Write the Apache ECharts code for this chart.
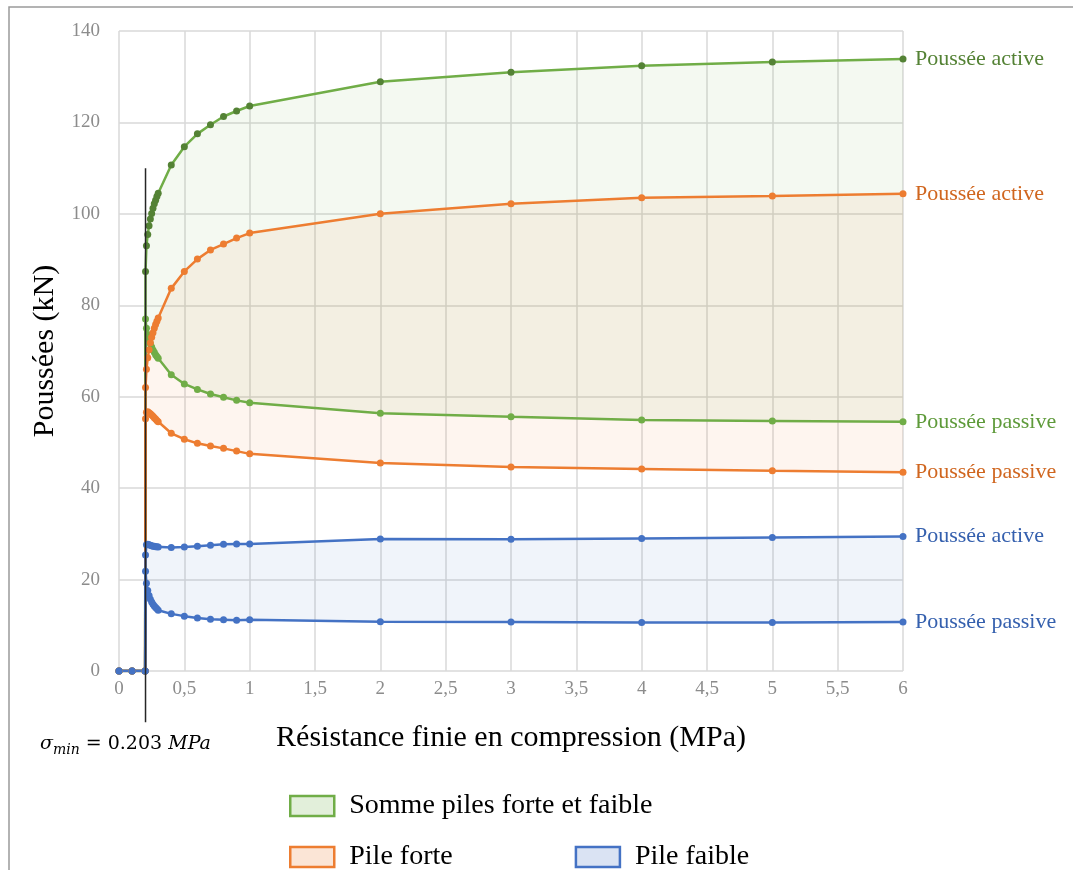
<!DOCTYPE html>
<html><head><meta charset="utf-8">
<script src="https://cdn.jsdelivr.net/npm/echarts@6/dist/echarts.min.js"></script>
<style>html,body{margin:0;padding:0;background:#fff}#c{width:1073px;height:870px}</style>
</head><body><div id="c"></div>
<script>
// ---- data ----
const xValues = [0, 0.1, 0.2, 0.203, 0.21, 0.22, 0.23, 0.24, 0.25, 0.26, 0.27, 0.28, 0.29, 0.3, 0.4, 0.5, 0.6, 0.7, 0.8, 0.9, 1, 2, 3, 4, 5, 6];
const sumActive     = [0, 0, 0, 87.4, 93.0, 95.5, 97.4, 98.9, 100.1, 101.2, 102.2, 103.0, 103.8, 104.5, 110.7, 114.7, 117.5, 119.5, 121.3, 122.5, 123.6, 128.9, 131.0, 132.4, 133.2, 133.9];
const sumPassive    = [0, 0, 0, 77.0, 75.0, 73.6, 72.5, 71.6, 70.9, 70.2, 69.7, 69.2, 68.8, 68.4, 64.8, 62.8, 61.6, 60.6, 59.9, 59.2, 58.7, 56.4, 55.6, 54.9, 54.7, 54.5];
const strongActive  = [0, 0, 0, 62.0, 66.0, 68.5, 70.3, 71.8, 73.0, 74.0, 75.0, 75.8, 76.5, 77.2, 83.7, 87.4, 90.1, 92.1, 93.4, 94.7, 95.8, 100.0, 102.2, 103.5, 103.9, 104.4];
const strongPassive = [0, 0, 0, 55.2, 56.6, 56.7, 56.5, 56.3, 56.0, 55.7, 55.4, 55.1, 54.8, 54.5, 52.0, 50.7, 49.8, 49.2, 48.7, 48.1, 47.5, 45.5, 44.6, 44.2, 43.8, 43.5];
const weakActive    = [0, 0, 0, 25.4, 27.6, 27.7, 27.6, 27.5, 27.4, 27.3, 27.3, 27.2, 27.2, 27.1, 27.0, 27.1, 27.3, 27.5, 27.7, 27.8, 27.8, 28.9, 28.8, 29.0, 29.2, 29.4];
const weakPassive   = [0, 0, 0, 21.8, 19.2, 17.6, 16.5, 15.7, 15.1, 14.6, 14.2, 13.9, 13.6, 13.3, 12.5, 12.0, 11.6, 11.3, 11.2, 11.1, 11.2, 10.8, 10.7, 10.6, 10.6, 10.7];
const sigmaMin = 0.203;
const sigmaLineY = [110, -11.2];
const legendNames = ['Somme piles forte et faible', 'Pile forte', 'Pile faible'];
const endLabels = ['Poussée active', 'Poussée passive'];
const xTitle = 'Résistance finie en compression (MPa)';
const yTitle = 'Poussées (kN)';

const FONT = 'Liberation Serif';
const chart = echarts.init(document.getElementById('c'), null, {renderer: 'canvas'});

function pairs(arr) { return xValues.map((x, i) => [x, arr[i]]); }

function band(name, top, bottom, fill) {
  return {
    type: 'custom', name, coordinateSystem: 'cartesian2d', silent: true, z: 1,
    data: [[0, 0]], encode: {x: 0, y: 1},
    itemStyle: {color: fill},
    renderItem(params, api) {
      const pts = [];
      for (let i = 0; i < xValues.length; i++) pts.push(api.coord([xValues[i], top[i]]));
      for (let i = xValues.length - 1; i >= 0; i--) pts.push(api.coord([xValues[i], bottom[i]]));
      return {type: 'polygon', shape: {points: pts}, style: {fill: fill, stroke: null}};
    }
  };
}

function line(name, arr, color, symColor, label, labelColor) {
  return {
    type: 'line', name, data: pairs(arr), z: 3,
    symbol: 'circle', symbolSize: 7, showAllSymbol: true,
    lineStyle: {color, width: 2.5},
    itemStyle: {color: symColor, borderWidth: 0},
    endLabel: {show: true, formatter: label, color: labelColor, fontFamily: FONT, fontSize: 22, distance: 12},
    emphasis: {disabled: true}, animation: false
  };
}

const option = {
  animation: false,
  backgroundColor: '#fff',
  grid: {left: 119, right: 170, top: 31, bottom: 199, containLabel: false},
  xAxis: {
    type: 'value', min: 0, max: 6, interval: 0.5,
    axisLine: {show: false}, axisTick: {show: false},
    splitLine: {show: true, lineStyle: {color: '#D9D9D9', width: 1.5}},
    axisLabel: {color: '#8c8c8c', fontFamily: FONT, fontSize: 19, margin: 9,
      formatter: v => String(v).replace('.', ',')},
    name: xTitle, nameLocation: 'middle', nameGap: 52,
    nameTextStyle: {fontFamily: FONT, fontSize: 30, color: '#000'}
  },
  yAxis: {
    type: 'value', min: 0, max: 140, interval: 20,
    axisLine: {show: false}, axisTick: {show: false},
    splitLine: {show: true, lineStyle: {color: '#D9D9D9', width: 1.5}},
    axisLabel: {color: '#8c8c8c', fontFamily: FONT, fontSize: 19, margin: 19},
    name: yTitle, nameLocation: 'middle', nameGap: 56,
    nameTextStyle: {fontFamily: FONT, fontSize: 30, color: '#000'}
  },
  legend: [
    {left: 284, top: 787, itemWidth: 44, itemHeight: 20, selectedMode: false,
      textStyle: {fontFamily: FONT, fontSize: 28, color: '#000', padding: [0, 0, 0, 10]},
      data: [{name: legendNames[0], icon: 'rect', itemStyle: {color: '#E2EFDA', borderColor: '#70AD47', borderWidth: 2.5}}]},
    {left: 284, top: 838, itemWidth: 44, itemHeight: 20, itemGap: 122, selectedMode: false,
      textStyle: {fontFamily: FONT, fontSize: 28, color: '#000', padding: [0, 0, 0, 10]},
      data: [
        {name: legendNames[1], icon: 'rect', itemStyle: {color: '#FBE5D6', borderColor: '#ED7D31', borderWidth: 2.5}},
        {name: legendNames[2], icon: 'rect', itemStyle: {color: '#DAE3F3', borderColor: '#4472C4', borderWidth: 2.5}}
      ]}
  ],
  graphic: [
    {type: 'rect', shape: {x: 9, y: 7, width: 1200, height: 1000}, style: {fill: 'none', stroke: '#9a9a9a', lineWidth: 1.5}, z: -10, silent: true},
    {type: 'text', x: 40, y: 729, silent: true, z: 10,
      style: {
        text: '{s|σ}{sub|min}{n| = 0.203 }{s|MPa}',
        rich: {
          s: {fontFamily: 'DejaVu Serif', fontStyle: 'italic', fontSize: 19, color: '#000', lineHeight: 30},
          sub: {fontFamily: 'DejaVu Serif', fontStyle: 'italic', fontSize: 14, color: '#000', lineHeight: 30, padding: [12, 0, 0, 0]},
          n: {fontFamily: 'DejaVu Serif', fontSize: 19, color: '#000', lineHeight: 30}
        }
      }}
  ],
  series: [
    band(legendNames[1], strongActive, strongPassive, 'rgba(237,125,49,0.08)'),
    band(legendNames[0], sumActive, sumPassive, 'rgba(112,173,71,0.08)'),
    band(legendNames[2], weakActive, weakPassive, 'rgba(68,114,196,0.08)'),
    line('g_act', sumActive, '#70AD47', '#548235', endLabels[0], '#548235'),
    line('g_pas', sumPassive, '#70AD47', '#70AD47', endLabels[1], '#5E9A3A'),
    line('o_act', strongActive, '#ED7D31', '#ED7D31', endLabels[0], '#D0661F'),
    line('o_pas', strongPassive, '#ED7D31', '#ED7D31', endLabels[1], '#D0661F'),
    line('b_act', weakActive, '#4472C4', '#4472C4', endLabels[0], '#3560AE'),
    line('b_pas', weakPassive, '#4472C4', '#4472C4', endLabels[1], '#3560AE'),
    {type: 'line', name: 'sigma', data: sigmaLineY.map(y => [sigmaMin, y]), clip: false, z: 4,
      symbol: 'none', lineStyle: {color: '#262626', width: 1.5}, silent: true}
  ]
};
chart.setOption(option);
</script></body></html>
